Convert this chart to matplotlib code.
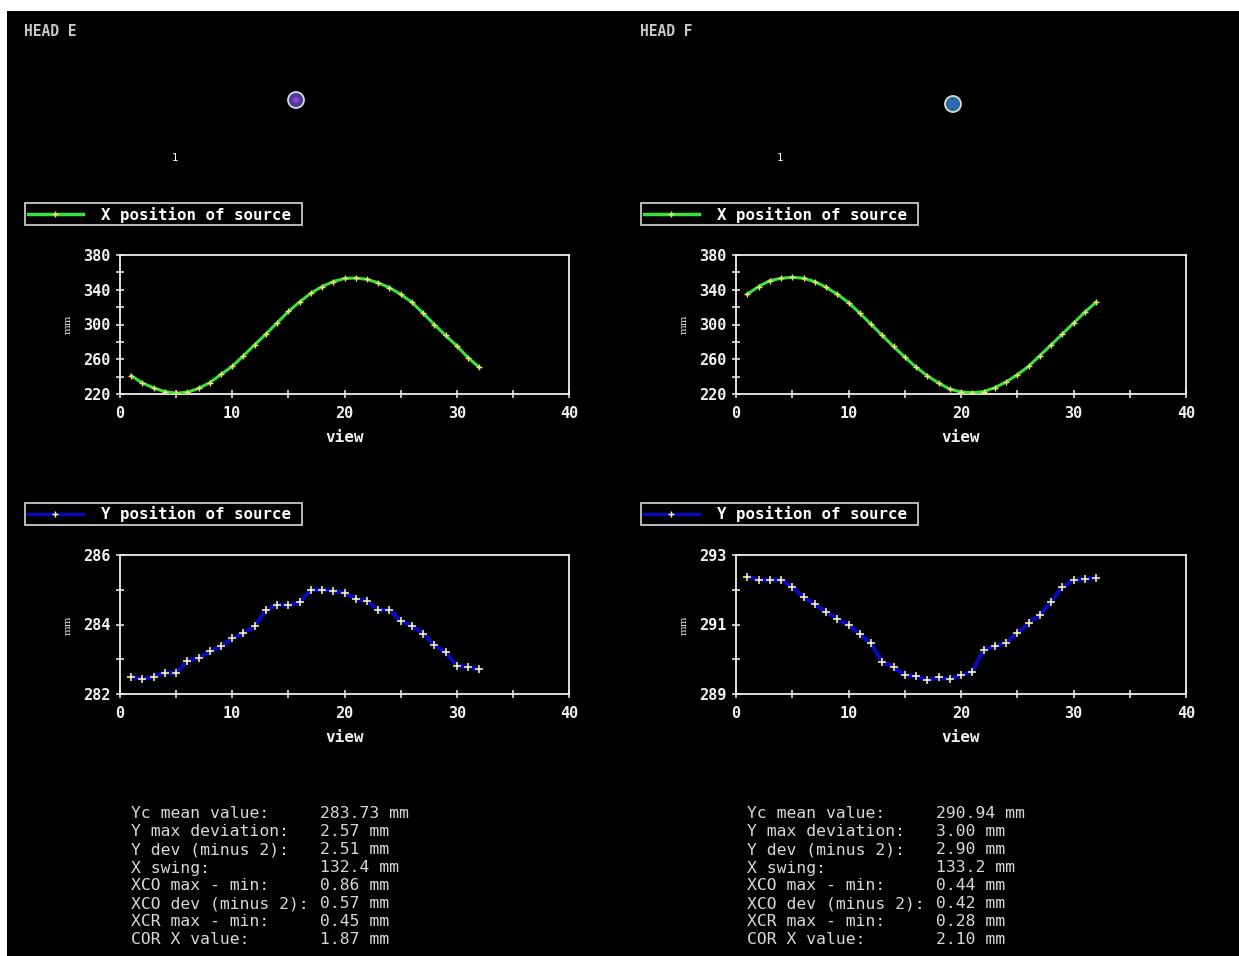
import matplotlib
matplotlib.use("Agg")
import matplotlib.pyplot as plt
from matplotlib.patches import Rectangle, Circle
from matplotlib.ticker import MultipleLocator, FixedLocator

# ---------------- data ----------------
views = list(range(1, 33))

head_e_x = [241, 232.6, 227, 222.7, 221, 222, 226.5, 233, 242.6, 251.8, 264, 276.6,
            289, 302, 315, 326, 336, 343.6, 349.4, 353, 353.6, 352, 348, 342.5,
            334.8, 325.6, 313, 300, 287.4, 275.5, 262, 250.6]
head_f_x = [334.8, 343.6, 350.5, 353.2, 354.4, 353.2, 349.4, 342.9, 334.8, 325.3,
            313, 300.4, 287.4, 274.7, 262.5, 251, 241, 232.6, 225.7, 222.3, 221.5,
            222.7, 227.3, 233.8, 242.2, 251.8, 264, 276.3, 289, 301.5, 314.2, 325.6]
head_e_y = [282.50, 282.43, 282.50, 282.61, 282.61, 282.95, 283.03, 283.23, 283.37,
            283.60, 283.75, 283.95, 284.41, 284.57, 284.55, 284.64, 285.00, 285.00,
            284.96, 284.92, 284.73, 284.68, 284.41, 284.43, 284.10, 283.96, 283.74,
            283.41, 283.20, 282.81, 282.78, 282.71]
head_f_y = [292.38, 292.28, 292.28, 292.28, 292.09, 291.78, 291.58, 291.37, 291.16,
            290.98, 290.72, 290.46, 289.92, 289.78, 289.54, 289.51, 289.39, 289.48,
            289.43, 289.54, 289.64, 290.27, 290.37, 290.47, 290.75, 291.03, 291.28,
            291.65, 292.07, 292.28, 292.31, 292.34]

heads = ["HEAD E", "HEAD F"]
x_legend = "X position of source"
y_legend = "Y position of source"
x_ylim = (220, 380)
x_yticks = [220, 260, 300, 340, 380]
x_yminor = [240, 280, 320, 360]
y_ylims = [(282, 286), (289, 293)]
y_yticks = [[282, 284, 286], [289, 291, 293]]
y_yminor = [[283, 285], [290, 292]]
view_ticks = [0, 10, 20, 30, 40]

stat_labels = ["Yc mean value:", "Y max deviation:", "Y dev (minus 2):", "X swing:",
               "XCO max - min:", "XCO dev (minus 2):", "XCR max - min:", "COR X value:"]
stats_e = ["283.73 mm", "2.57 mm", "2.51 mm", "132.4 mm", "0.86 mm", "0.57 mm",
           "0.45 mm", "1.87 mm"]
stats_f = ["290.94 mm", "3.00 mm", "2.90 mm", "133.2 mm", "0.44 mm", "0.42 mm",
           "0.28 mm", "2.10 mm"]

# ---------------- figure ----------------
W, H = 1239, 956
fig = plt.figure(figsize=(W / 100, H / 100), dpi=100, facecolor="white")

# black screen area (figure coordinates, extends past right/bottom edges)
fig.add_artist(Rectangle((7 / W, -0.05), 1.1, 1 - 11 / H + 0.05,
                         transform=fig.transFigure, facecolor="black",
                         edgecolor="none", zorder=-10))

bg = fig.add_axes([0, 0, 1, 1], zorder=0)
bg.set_xlim(0, W)
bg.set_ylim(H, 0)
bg.axis("off")

MONO = "DejaVu Sans Mono"
FG = "#f0f0f0"
GREEN = "#3ee03e"
BLUE = "#0a0ab8"


def add_axes_px(left, top, right, bottom):
    return fig.add_axes([left / W, 1 - bottom / H, (right - left) / W, (bottom - top) / H],
                        zorder=2)


def style_axes(ax, ylim, majors, minors):
    ax.set_facecolor("none")
    ax.set_xlim(0, 40)
    ax.set_ylim(*ylim)
    ax.xaxis.set_major_locator(FixedLocator(view_ticks))
    ax.xaxis.set_minor_locator(MultipleLocator(5))
    ax.yaxis.set_major_locator(FixedLocator(majors))
    ax.yaxis.set_minor_locator(FixedLocator(minors))
    for s in ax.spines.values():
        s.set_color(FG)
        s.set_linewidth(1.3)
    ax.tick_params(which="both", direction="inout", length=6, width=1.1, color=FG,
                   labelcolor=FG, labelsize=11)
    ax.tick_params(axis="x", pad=6)
    ax.tick_params(axis="y", pad=4)
    for lab in ax.get_xticklabels() + ax.get_yticklabels():
        lab.set_fontfamily(MONO)
        lab.set_fontweight("bold")
    ax.set_xlabel("view", color=FG, fontfamily=MONO, fontweight="bold", fontsize=11.5,
                  labelpad=6)


def legend_box(x0, y0, color, mcolor, label):
    bg.add_patch(Rectangle((x0, y0), 277, 22, facecolor="black", edgecolor="#c8c8c8",
                           linewidth=1.3, zorder=3))
    bg.plot([x0 + 3, x0 + 58], [y0 + 11, y0 + 11], color=color, lw=2.5, zorder=4)
    bg.plot([x0 + 30], [y0 + 11], marker="+", color=mcolor, ms=5, mew=1, zorder=5)
    bg.text(x0 + 76, y0 + 11.5, label, color="white", fontfamily=MONO, fontweight="bold",
            fontsize=11.3, va="center", ha="left", zorder=5)


cols = [
    dict(left=120, right=569, head_x=24, dot=(296, 100), dotc="#4a3c9a", dotin="#9a3cd0",
         one=175, xs=head_e_x, ys=head_e_y, stats=stats_e, sx=131, vx=320),
    dict(left=736, right=1186, head_x=640, dot=(953, 104), dotc="#2a6a9a", dotin="#3c64c8",
         one=780, xs=head_f_x, ys=head_f_y, stats=stats_f, sx=747, vx=936),
]

for i, c in enumerate(cols):
    bg.text(c["head_x"], 31, heads[i], color="#c8c8c8", fontfamily=MONO, fontweight="bold",
            fontsize=10.5, va="center", ha="left")
    bg.add_patch(Circle(c["dot"], 8, facecolor=c["dotc"], edgecolor="#d8d8d8", lw=1.3))
    bg.add_patch(Circle(c["dot"], 3, facecolor=c["dotin"], edgecolor="none"))
    bg.text(c["one"], 158, "1", color="white", fontsize=7.5, va="center", ha="center")

    # X plot
    legend_box(c["head_x"] + 1, 203, GREEN, "#e8e870", x_legend)
    ax = add_axes_px(c["left"], 255, c["right"], 394)
    ax.plot(views, c["xs"], color=GREEN, lw=2.2, marker="+", ms=5, mew=1,
            mec="#e8e870", zorder=3)
    style_axes(ax, x_ylim, x_yticks, x_yminor)
    bg.text(c["left"] - 52, 324, "mm", rotation=90, color=FG, fontsize=7.5,
            fontfamily="DejaVu Serif", va="center", ha="center")

    # Y plot
    legend_box(c["head_x"] + 1, 503, BLUE, "#ffffa0", y_legend)
    ay = add_axes_px(c["left"], 555, c["right"], 694)
    ay.plot(views, c["ys"], color=BLUE, lw=3, marker="+", ms=6, mew=1.1,
            mec="#ffffa0", zorder=3)
    style_axes(ay, y_ylims[i], y_yticks[i], y_yminor[i])
    bg.text(c["left"] - 52, 625, "mm", rotation=90, color=FG, fontsize=7.5,
            fontfamily="DejaVu Serif", va="center", ha="center")

    for k, (lab, val) in enumerate(zip(stat_labels, c["stats"])):
        y = 814 + 18 * k
        bg.text(c["sx"], y, lab, color="#d8d8d8", fontfamily=MONO, fontsize=11.8,
                va="center", ha="left")
        bg.text(c["vx"], y, val, color="#d8d8d8", fontfamily=MONO, fontsize=11.8,
                va="center", ha="left")

fig.savefig("out.png", dpi=100, facecolor="white")
